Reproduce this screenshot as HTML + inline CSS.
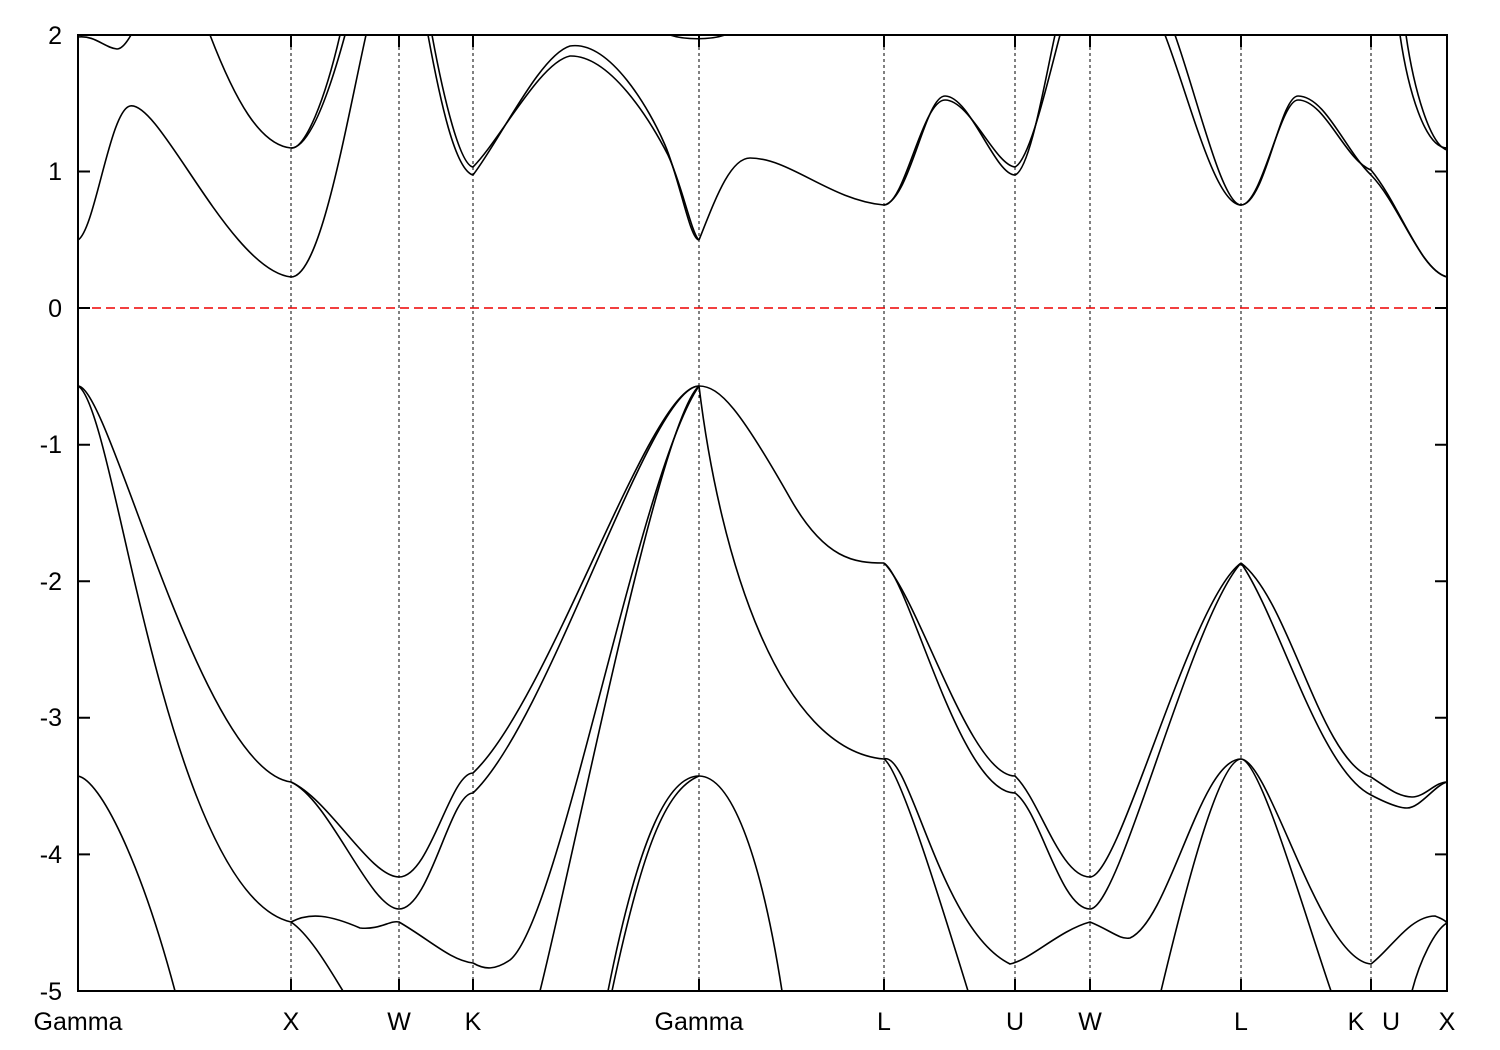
<!DOCTYPE html>
<html><head><meta charset="utf-8"><style>
html,body{margin:0;padding:0;background:#fff;}
svg{display:block;}
text{font-family:"Liberation Sans",sans-serif;font-size:25px;fill:#000;}
</style></head><body>
<svg width="1500" height="1050" viewBox="0 0 1500 1050" xmlns="http://www.w3.org/2000/svg">
<defs><clipPath id="c"><rect x="78" y="35" width="1369" height="956"/></clipPath></defs>
<g stroke="#000" stroke-width="1" stroke-dasharray="3,3">
<line x1="291" y1="35" x2="291" y2="991"/><line x1="399" y1="35" x2="399" y2="991"/>
<line x1="473" y1="35" x2="473" y2="991"/><line x1="699" y1="35" x2="699" y2="991"/>
<line x1="884" y1="35" x2="884" y2="991"/><line x1="1015" y1="35" x2="1015" y2="991"/>
<line x1="1090" y1="35" x2="1090" y2="991"/><line x1="1241" y1="35" x2="1241" y2="991"/>
<line x1="1371" y1="35" x2="1371" y2="991"/>
</g>
<line x1="78" y1="308" x2="1447" y2="308" stroke="#e00" stroke-width="1.5" stroke-dasharray="9,5"/>
<g clip-path="url(#c)" fill="none" stroke="#000" stroke-width="1.6">
<path d="M78,240 C95,230 110,110 130,106 C160,100 230,270 291,277 C320,277 345,130 366,35"/>
<path d="M210,35 C235,100 260,145 291,148 C310,148 330,90 345,35"/>
<path d="M291,148 C305,150 325,100 340,35"/>
<path d="M78,37 C95,35 105,48 117,49 C122,49 127,42 131,35"/>
<path d="M428,35 C440,100 455,170 473,175 C500,140 540,55 570,46 C610,40 650,110 665,145 C680,180 690,240 699,240"/>
<path d="M432,35 C444,100 460,165 473,167 C500,140 540,62 570,56 C610,55 650,120 668,155 C682,185 692,235 699,240"/>
<path d="M699,240 C715,200 730,158 750,158 C790,158 830,200 884,205"/>
<path d="M884,205 C910,200 925,96 945,96 C970,96 995,175 1015,175 C1030,170 1045,80 1055,35"/>
<path d="M884,205 C905,205 922,100 945,100 C970,100 995,165 1015,167 C1030,160 1048,80 1060,35"/>
<path d="M1165,35 C1190,100 1215,205 1241,205 C1265,205 1280,96 1298,96 C1325,96 1345,150 1371,175 C1400,205 1420,270 1447,277"/>
<path d="M1175,35 C1198,100 1222,205 1241,205 C1262,205 1280,100 1298,100 C1325,100 1345,160 1371,170 C1400,205 1420,270 1447,277"/>
<path d="M1400,35 C1408,90 1425,148 1447,148"/>
<path d="M1406,35 C1414,90 1430,145 1447,150"/>
<path d="M670,35 C685,40 710,40 725,35"/>
<path d="M78,386 C110,386 200,770 291,782"/>
<path d="M291,782 C330,800 370,877 399,877 C430,877 450,773 473,773 C550,700 650,386 699,386"/>
<path d="M291,782 C330,800 370,909 399,909 C430,909 450,793 473,793 C550,720 650,386 699,386"/>
<path d="M78,386 C95,395 115,500 137,592 C165,710 215,905 291,922 C310,912 330,915 360,928 C380,930 390,920 399,922 C430,940 450,960 473,963 C485,970 495,970 510,960 C560,920 640,470 699,386"/>
<path d="M78,776 C100,780 140,860 175,991"/>
<path d="M291,922 C310,935 330,970 343,991"/>
<path d="M540,991 C580,830 660,420 699,386"/>
<path d="M608,991 C640,830 670,776 699,776 C730,776 760,850 782,991"/>
<path d="M612,991 C642,850 665,790 699,776"/>
<path d="M699,386 C720,386 740,410 790,498 C825,560 855,563 884,563"/>
<path d="M699,386 C720,560 780,750 884,759"/>
<path d="M884,563 C920,600 970,776 1015,776 C1040,800 1060,877 1090,877 C1120,877 1190,600 1241,563"/>
<path d="M884,563 C910,580 960,793 1015,793 C1040,810 1060,909 1090,909 C1120,909 1190,620 1241,563"/>
<path d="M1241,563 C1290,600 1320,760 1371,777 C1390,790 1400,797 1412,797 C1425,797 1435,782 1447,782"/>
<path d="M1241,563 C1280,620 1320,770 1371,795 C1390,805 1400,808 1407,808 C1420,808 1435,785 1447,782"/>
<path d="M884,759 C900,770 940,900 968,991"/>
<path d="M884,759 C910,750 940,930 1010,964 C1030,960 1060,930 1090,922 C1110,930 1120,940 1130,938 C1170,920 1200,759 1241,759"/>
<path d="M1161,991 C1190,870 1220,760 1241,759"/>
<path d="M1241,759 C1260,760 1300,900 1331,991"/>
<path d="M1241,759 C1270,760 1320,960 1371,964 C1390,950 1410,916 1435,916 C1440,918 1445,920 1447,923"/>
<path d="M1412,991 C1420,960 1435,930 1447,923"/>
</g>
<g stroke="#000" stroke-width="2">
<rect x="78" y="35" width="1369" height="956" fill="none"/>
<path d="M78,35h12M78,171.5h12M78,308h12M78,444.7h12M78,581.2h12M78,717.8h12M78,854.4h12
M1447,35h-12M1447,171.5h-12M1447,308h-12M1447,444.7h-12M1447,581.2h-12M1447,717.8h-12M1447,854.4h-12
M291,991v-12M399,991v-12M473,991v-12M699,991v-12M884,991v-12M1015,991v-12M1090,991v-12M1241,991v-12M1371,991v-12
M291,35v12M399,35v12M473,35v12M699,35v12M884,35v12M1015,35v12M1090,35v12M1241,35v12M1371,35v12"/>
</g>
<g text-anchor="end">
<text x="62" y="44">2</text><text x="62" y="180">1</text><text x="62" y="317">0</text>
<text x="62" y="453">-1</text><text x="62" y="590">-2</text><text x="62" y="726">-3</text>
<text x="62" y="863">-4</text><text x="62" y="1000">-5</text>
</g>
<g text-anchor="middle">
<text x="78" y="1030">Gamma</text><text x="291" y="1030">X</text><text x="399" y="1030">W</text>
<text x="473" y="1030">K</text><text x="699" y="1030">Gamma</text><text x="884" y="1030">L</text>
<text x="1015" y="1030">U</text><text x="1090" y="1030">W</text><text x="1241" y="1030">L</text>
<text x="1356" y="1030">K</text><text x="1391" y="1030">U</text><text x="1447" y="1030">X</text>
</g>
</svg>
</body></html>
